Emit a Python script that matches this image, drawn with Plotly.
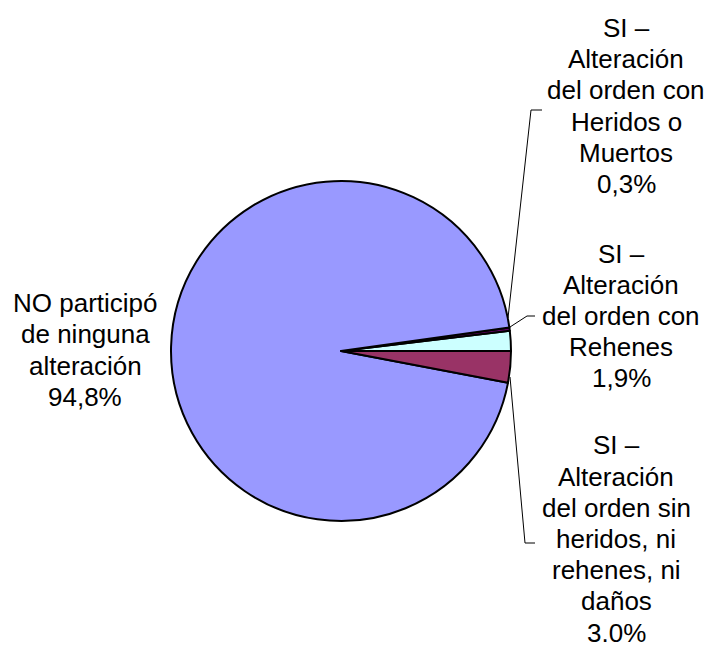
import plotly.graph_objects as go

# page body has an 8px default margin; figure is sized to fill the rest
OFF = 8
W, H = 712 - OFF, 653 - OFF

# Data (counterclockwise from 3 o'clock)
categories = [
    "SI – Alteración del orden con Rehenes",
    "SI – Alteración del orden con Heridos o Muertos",
    "NO participó de ninguna alteración",
    "SI – Alteración del orden sin heridos, ni rehenes, ni daños",
]
values = [1.9, 0.3, 94.8, 3.0]
colors = ["#CCFFFF", "#660066", "#9999FF", "#993366"]
label_lines = [
    ["SI –", "Alteración", "del orden con", "Rehenes", "1,9%"],
    ["SI –", "Alteración", "del orden con", "Heridos o", "Muertos", "0,3%"],
    ["NO participó", "de ninguna", "alteración", "94,8%"],
    ["SI –", "Alteración", "del orden sin", "heridos, ni", "rehenes, ni", "daños", "3.0%"],
]

# Layout helpers (window pixel -> paper)
def px(x):
    return (x - OFF) / W

def py(y):
    return 1 - (y - OFF) / H

cx, cy, r = 341, 351, 170

# first slice should begin exactly at 3 o'clock and go counterclockwise
rotation = 90 - 360 * values[0] / sum(values)

fig = go.Figure(go.Pie(
    labels=categories,
    values=values,
    sort=False,
    direction="counterclockwise",
    rotation=rotation,
    marker=dict(colors=colors, line=dict(color="black", width=2)),
    textinfo="none",
    hoverinfo="label+percent",
    domain=dict(x=[px(cx - r), px(cx + r)], y=[py(cy + r), py(cy - r)]),
    showlegend=False,
))

font = dict(family="Liberation Sans, Arial, sans-serif", size=26, color="black")
LINE = 31.2
label_pos = [(621, 316), (626, 106), (85, 350), (616, 539)]
for lines, (x, y) in zip(label_lines, label_pos):
    n = len(lines)
    for i, t in enumerate(lines):
        yy = y + (i - (n - 1) / 2) * LINE
        fig.add_annotation(x=px(x), y=py(yy), xref="paper", yref="paper",
                           text=t, showarrow=False, font=font,
                           xanchor="center", yanchor="middle", align="center")

leaders = [
    [(510, 327), (527, 316), (535, 316)],
    [(508, 318), (531, 110), (542, 110)],
    [(510, 377), (525, 543), (535, 543)],
]
for pts in leaders:
    path = "M " + " L ".join(f"{px(x)},{py(y)}" for x, y in pts)
    fig.add_shape(type="path", path=path, xref="paper", yref="paper",
                  line=dict(color="black", width=1))

fig.update_layout(
    width=W, height=H,
    margin=dict(l=0, r=0, t=0, b=0),
    paper_bgcolor="white", plot_bgcolor="white",
)
fig.write_html("out.html")
